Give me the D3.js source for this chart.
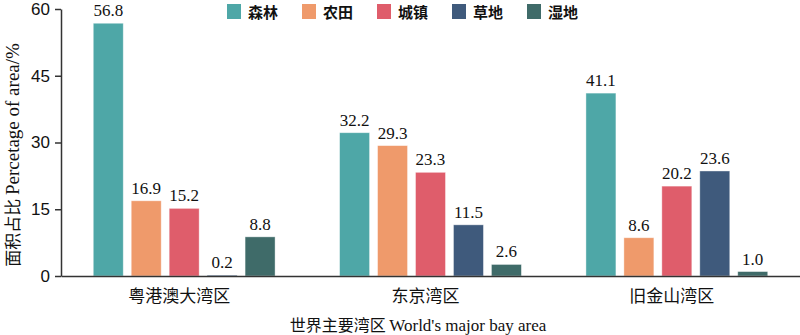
<!DOCTYPE html>
<html>
<head>
<meta charset="utf-8">
<script src="https://cdn.jsdelivr.net/npm/d3@7"></script>
<style>
  body { margin: 0; background: #fff; }
  svg { display: block; font-family: "Liberation Serif", "Noto Sans CJK SC", serif; }
  .axis path, .axis line { stroke: #333; stroke-width: 1.5; }
  .axis text { font-size: 17px; fill: #111; }
</style>
</head>
<body>
<div class="chart"></div>
<script>
const width = 800
const height = 335
const margin = { top: 9, right: 0, bottom: 59, left: 61 }

const regions = ["粤港澳大湾区", "东京湾区", "旧金山湾区"]
const landTypes = ["森林", "农田", "城镇", "草地", "湿地"]
const colors = ["#4ea7a7", "#ef9a6b", "#df5d6b", "#3f5a7c", "#3f6b69"]
const forest = [56.8, 32.2, 41.1]
const farmland = [16.9, 29.3, 8.6]
const urban = [15.2, 23.3, 20.2]
const grassland = [0.2, 11.5, 23.6]
const wetland = [8.8, 2.6, 1.0]
const yTicks = [0, 15, 30, 45, 60]

const series = [forest, farmland, urban, grassland, wetland]

const svg = d3.select(".chart").append("svg")
  .attr("width", width)
  .attr("height", height)

const x0 = d3.scaleBand()
  .domain(regions)
  .range([margin.left, width - margin.right])
  .padding(0)

const x1 = d3.scaleBand()
  .domain(landTypes)
  .range([0, x0.bandwidth()])
  .paddingInner(0.21)
  .paddingOuter(0.85)

const y = d3.scaleLinear()
  .domain([0, 60])
  .range([height - margin.bottom, margin.top])

const bars = svg.append("g")
regions.forEach((r, i) => {
  const g = bars.append("g").attr("transform", `translate(${x0(r)},0)`)
  landTypes.forEach((t, j) => {
    const v = series[j][i]
    g.append("rect")
      .attr("x", x1(t))
      .attr("y", y(v))
      .attr("width", x1.bandwidth())
      .attr("height", y(0) - y(v))
      .attr("fill", colors[j])
      .attr("stroke", "rgba(255,255,255,0.5)")
      .attr("stroke-width", 0.8)
    g.append("text")
      .attr("x", x1(t) + x1.bandwidth() / 2)
      .attr("y", y(v) - 7)
      .attr("text-anchor", "middle")
      .attr("font-size", 17)
      .attr("fill", "#111")
      .text(v.toFixed(1))
  })
})

svg.append("g")
  .attr("class", "axis")
  .attr("transform", `translate(${margin.left},0)`)
  .call(d3.axisLeft(y).tickValues(yTicks).tickSize(6).tickSizeOuter(0).tickPadding(5))

const xAxis = svg.append("g")
  .attr("class", "axis")
  .attr("transform", `translate(0,${y(0)})`)
  .call(d3.axisBottom(x0).tickSize(0).tickPadding(14))
xAxis.selectAll("text")
  .attr("font-family", "'Noto Sans CJK SC', sans-serif")
  .attr("font-size", 16)
  .attr("dx", -5)

svg.append("text")
  .attr("transform", `translate(19,155) rotate(-90)`)
  .attr("text-anchor", "middle")
  .attr("font-size", 19)
  .attr("fill", "#111")
  .call(t => {
    t.append("tspan").attr("font-family", "'Noto Sans CJK SC', sans-serif").attr("font-size", 17).text("面积占比 ")
    t.append("tspan").text("Percetage of area/%")
  })

svg.append("text")
  .attr("x", 418)
  .attr("y", 331)
  .attr("text-anchor", "middle")
  .attr("font-size", 17)
  .attr("fill", "#111")
  .call(t => {
    t.append("tspan").attr("font-family", "'Noto Sans CJK SC', sans-serif").attr("font-size", 16).text("世界主要湾区 ")
    t.append("tspan").text("World's major bay area")
  })

const legend = svg.append("g")
landTypes.forEach((t, j) => {
  const lx = 227 + j * 75
  legend.append("rect")
    .attr("x", lx)
    .attr("y", 4)
    .attr("width", 14)
    .attr("height", 15)
    .attr("fill", colors[j])
  legend.append("text")
    .attr("x", lx + 21)
    .attr("y", 18)
    .attr("dy", "0")
    .attr("font-family", "'Noto Sans CJK SC', sans-serif")
    .attr("font-weight", "bold")
    .attr("font-size", 15)
    .attr("fill", "#111")
    .text(t)
})
</script>
</body>
</html>
